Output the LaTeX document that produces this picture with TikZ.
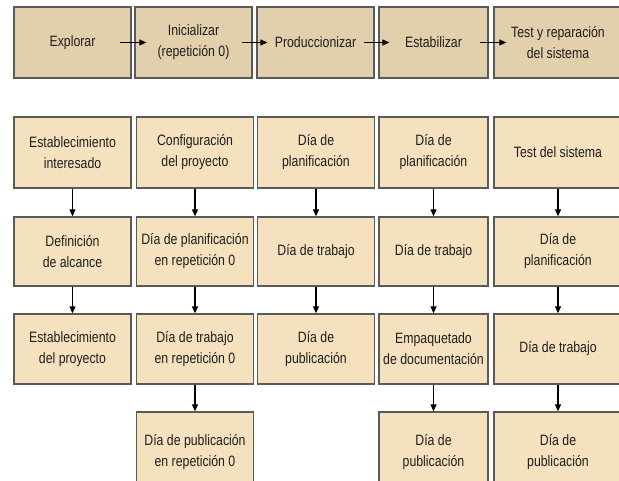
\documentclass[tikz,border=0pt]{standalone}
\usepackage{fontspec}
\setmainfont{Liberation Sans}[FakeStretch=0.82]
\usetikzlibrary{arrows.meta}
\definecolor{topfill}{HTML}{E2CFAB}
\definecolor{lowfill}{HTML}{F6E1BF}
\definecolor{edge}{HTML}{5A5A5A}
\definecolor{txt}{HTML}{1E1E1E}
\tikzset{
  box/.style={draw=edge, line width=1.3pt, inner sep=0pt, align=center, text=txt,
    font=\fontsize{15}{21}\selectfont},
  topbox/.style={box, fill=topfill},
  lowbox/.style={box, fill=lowfill},
  conn/.style={line width=1.1pt, -{Triangle[length=7pt,width=6pt]}}
}
\begin{document}
\begin{tikzpicture}[x=1pt,y=-1pt]
\useasboundingbox (0,0) rectangle (619,481);
\fill[white] (0,0) rectangle (619,481);
\clip (0,0) rectangle (619,481);
% top row
\node[topbox, minimum width=117pt, minimum height=71pt] (t1) at (72.5,42.5) {Explorar};
\node[topbox, minimum width=117pt, minimum height=71pt] (t2) at (193.5,42.5) {Inicializar\\(repetición 0)};
\node[topbox, minimum width=117pt, minimum height=71pt] (t3) at (315.5,42.5) {Produccionizar};
\node[topbox, minimum width=109pt, minimum height=71pt] (t4) at (433.5,42.5) {Estabilizar};
\node[topbox, minimum width=128pt, minimum height=71pt] (t5) at (558,42.5) {Test y reparación\\del sistema};
\draw[conn] ([xshift=-12pt]t1.east) -- ([xshift=12pt]t2.west);
\draw[conn] ([xshift=-11pt]t2.east) -- ([xshift=11pt]t3.west);
\draw[conn] ([xshift=-11pt]t3.east) -- ([xshift=11pt]t4.west);
\draw[conn] ([xshift=-9pt]t4.east) -- ([xshift=13pt]t5.west);
% column 1
\node[lowbox, minimum width=117pt, minimum height=71pt] (a1) at (72.5,152.5) {Establecimiento\\interesado};
\node[lowbox, minimum width=117pt, minimum height=69pt] (a2) at (72.5,251.5) {Definición\\de alcance};
\node[lowbox, minimum width=117pt, minimum height=70pt] (a3) at (72.5,349) {Establecimiento\\del proyecto};
% column 2
\node[lowbox, minimum width=117pt, minimum height=71pt] (b1) at (195,152.5) {Configuración\\del proyecto};
\node[lowbox, minimum width=117pt, minimum height=69pt] (b2) at (195,251.5) {Día de planificación\\en repetición 0};
\node[lowbox, minimum width=117pt, minimum height=70pt] (b3) at (195,349) {Día de trabajo\\en repetición 0};
\node[lowbox, minimum width=117pt, minimum height=80pt] (b4) at (195,452) {Día de publicación\\en repetición 0};
% column 3
\node[lowbox, minimum width=117pt, minimum height=71pt] (c1) at (316,152.5) {Día de\\planificación};
\node[lowbox, minimum width=117pt, minimum height=69pt] (c2) at (316,251.5) {Día de trabajo};
\node[lowbox, minimum width=117pt, minimum height=70pt] (c3) at (316,349) {Día de\\publicación};
% column 4
\node[lowbox, minimum width=109pt, minimum height=71pt] (d1) at (433.5,152.5) {Día de\\planificación};
\node[lowbox, minimum width=109pt, minimum height=69pt] (d2) at (433.5,251.5) {Día de trabajo};
\node[lowbox, minimum width=109pt, minimum height=70pt] (d3) at (433.5,349) {Empaquetado\\de documentación};
\node[lowbox, minimum width=109pt, minimum height=80pt] (d4) at (433.5,452) {Día de\\publicación};
% column 5
\node[lowbox, minimum width=128pt, minimum height=71pt] (e1) at (558,152.5) {Test del sistema};
\node[lowbox, minimum width=128pt, minimum height=69pt] (e2) at (558,251.5) {Día de\\planificación};
\node[lowbox, minimum width=128pt, minimum height=70pt] (e3) at (558,349) {Día de trabajo};
\node[lowbox, minimum width=128pt, minimum height=80pt] (e4) at (558,452) {Día de\\publicación};
% vertical arrows
\foreach \u/\v in {a1/a2,a2/a3,b1/b2,b2/b3,b3/b4,c1/c2,c2/c3,d1/d2,d2/d3,d3/d4,e1/e2,e2/e3,e3/e4}
  \draw[conn] (\u.south) -- (\v.north);
\end{tikzpicture}
\end{document}
